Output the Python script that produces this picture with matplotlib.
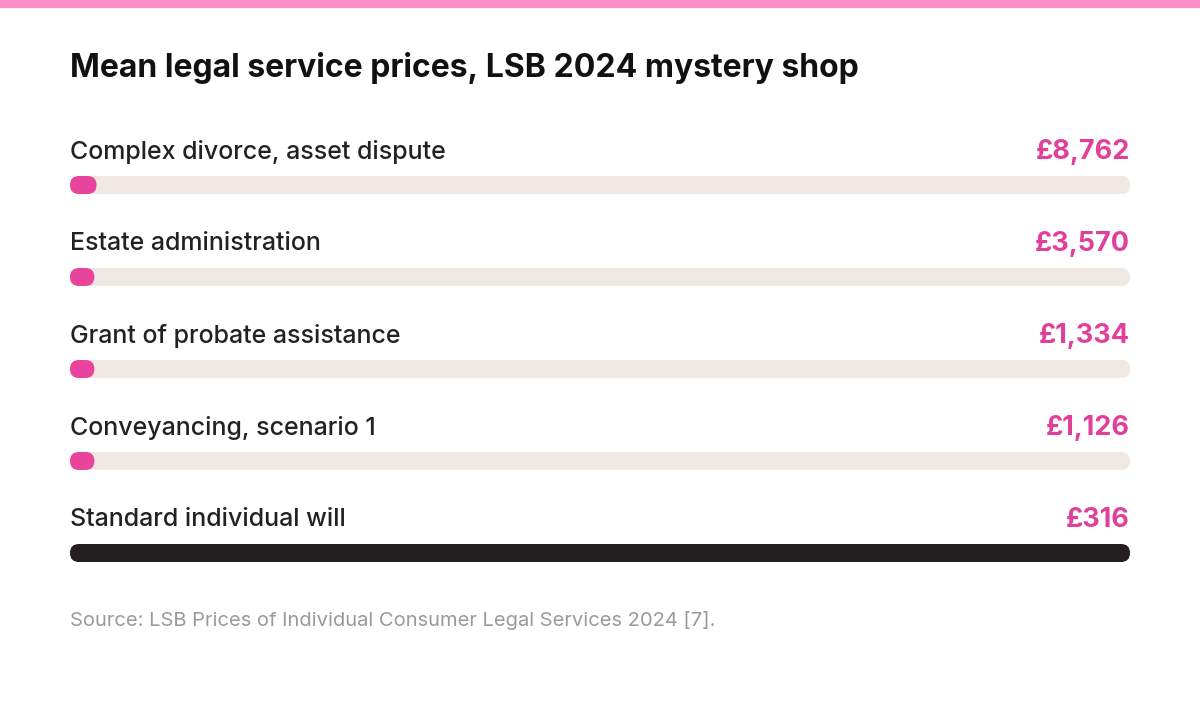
import matplotlib
matplotlib.use("Agg")
import matplotlib.pyplot as plt
from matplotlib.patches import FancyBboxPatch, Rectangle

categories = ["Complex divorce, asset dispute", "Estate administration",
              "Grant of probate assistance", "Conveyancing, scenario 1",
              "Standard individual will"]
values = [8762, 3570, 1334, 1126, 316]
value_labels = ["£8,762", "£3,570", "£1,334", "£1,126", "£316"]
fill_share = [0.025, 0.023, 0.023, 0.023, 1.0]  # fill as drawn in the source
fill_colors = ["#e8449b"] * 4 + ["#231f20"]

fig = plt.figure(figsize=(12, 7.01), dpi=100)
ax = fig.add_axes([0, 0, 1, 1])
ax.set_xlim(0, 1200); ax.set_ylim(701, 0); ax.axis("off")
ax.add_patch(Rectangle((0, 0), 1200, 7, color="#ff8fc8"))
ax.text(70, 68, "Mean legal service prices, LSB 2024 mystery shop", fontsize=23,
        fontweight="bold", family="Inter", va="center", color="#111111")

x0, x1, h = 70, 1130, 18
for i, (c, lab, f, col) in enumerate(zip(categories, value_labels, fill_share, fill_colors)):
    yc = 185 + 92 * i
    ax.text(x0, yc - 33, c, fontsize=18, family="Inter", fontweight="medium",
            va="center", color="#222222")
    ax.text(x1, yc - 33, lab, fontsize=19.5, family="Inter", fontweight="bold",
            va="center", ha="right", color="#e0409a")
    ax.add_patch(FancyBboxPatch((x0, yc - h/2), x1 - x0, h,
                 boxstyle=f"round,pad=0,rounding_size={h/2}", fc="#f0e8e2", ec="none"))
    w = max(f * (x1 - x0), h + 6)
    ax.add_patch(FancyBboxPatch((x0, yc - h/2), w, h,
                 boxstyle=f"round,pad=0,rounding_size={h/2}", fc=col, ec="none"))

ax.text(x0, 620, "Source: LSB Prices of Individual Consumer Legal Services 2024 [7].",
        fontsize=14.5, family="Inter", va="center", color="#9a9a9a")
fig.savefig("out.png", dpi=100)
